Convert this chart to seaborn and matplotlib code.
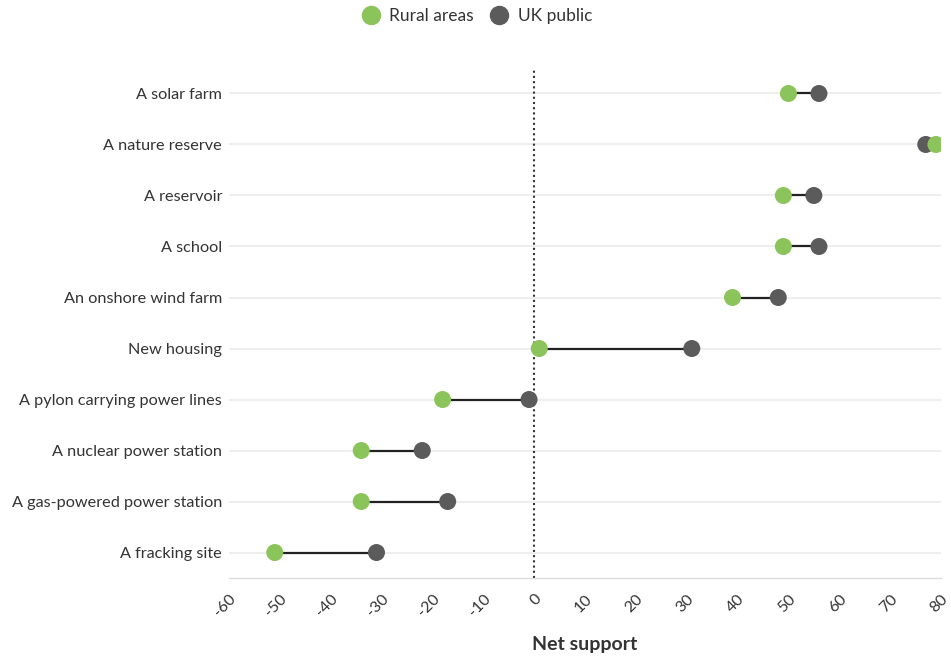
import numpy as np
import pandas as pd
import matplotlib
matplotlib.use("Agg")
import matplotlib.pyplot as plt
import matplotlib.transforms as mtransforms
import seaborn as sns
from matplotlib.lines import Line2D

categories = [
    "A solar farm",
    "A nature reserve",
    "A reservoir",
    "A school",
    "An onshore wind farm",
    "New housing",
    "A pylon carrying power lines",
    "A nuclear power station",
    "A gas-powered power station",
    "A fracking site",
]
rural = [50, 79, 49, 49, 39, 1, -18, -34, -34, -51]
uk_public = [56, 77, 55, 56, 48, 31, -1, -22, -17, -31]
x_ticks = list(range(-60, 81, 10))

GREEN = "#8cc45c"
GREY = "#5b5b5b"

sns.set_style("white")
plt.rcParams["font.family"] = ["Lato", "DejaVu Sans"]

df = pd.DataFrame({"category": categories, "Rural areas": rural, "UK public": uk_public})
df["row"] = np.arange(len(df))
long = df.melt(id_vars=["category", "row"], value_vars=["UK public", "Rural areas"],
               var_name="group", value_name="net")

fig = plt.figure(figsize=(9.51, 6.60), dpi=100)
ax = fig.add_axes([0.2408, 0.1242, 0.7487, 0.7728])

for r in df["row"]:
    ax.axhline(r, color="#ebebeb", lw=1.2, zorder=0)
ax.axvline(0, color="#333333", lw=1.5, ls=(0, (1, 1.5)), zorder=1)
ax.hlines(df["row"], df[["Rural areas", "UK public"]].min(axis=1),
          df[["Rural areas", "UK public"]].max(axis=1), color="#222222", lw=1.6, zorder=2)

sns.scatterplot(data=long, x="net", y="row", hue="group",
                palette={"Rural areas": GREEN, "UK public": GREY},
                s=150, edgecolor="none", legend=False, zorder=3, ax=ax)

ax.set_ylim(len(df) - 0.5, -0.5)
ax.set_yticks(df["row"])
ax.set_yticklabels(categories, fontsize=11.7, color="#333333")
ax.set_xlim(-60, 80)
ax.set_xticks(x_ticks)
ax.set_xticklabels([str(t) for t in x_ticks], rotation=45, ha="right",
                   rotation_mode="anchor", fontsize=11.5, color="#333333")
shift = mtransforms.ScaledTranslation(5 / 100, 0, fig.dpi_scale_trans)
for lbl in ax.get_xticklabels():
    lbl.set_transform(lbl.get_transform() + shift)
ax.tick_params(axis="x", length=5, color="#dddddd", width=1, pad=5)
ax.tick_params(axis="y", length=0, pad=5)
ax.set_ylabel("")
ax.set_xlabel("Net support", fontsize=14, fontweight="bold", color="#333333", labelpad=12)

for s in ["top", "right", "left"]:
    ax.spines[s].set_visible(False)
ax.spines["bottom"].set_color("#dddddd")
ax.spines["bottom"].set_linewidth(1)

handles = [Line2D([], [], marker="o", ls="", color=GREEN, markersize=13, label="Rural areas"),
           Line2D([], [], marker="o", ls="", color=GREY, markersize=13, label="UK public")]
fig.legend(handles=handles, loc="upper center", bbox_to_anchor=(0.497, 1.012), ncol=2,
           frameon=False, fontsize=12.5, handletextpad=0.05, columnspacing=0.5,
           labelcolor="#333333")

fig.savefig("out.png", dpi=100)
